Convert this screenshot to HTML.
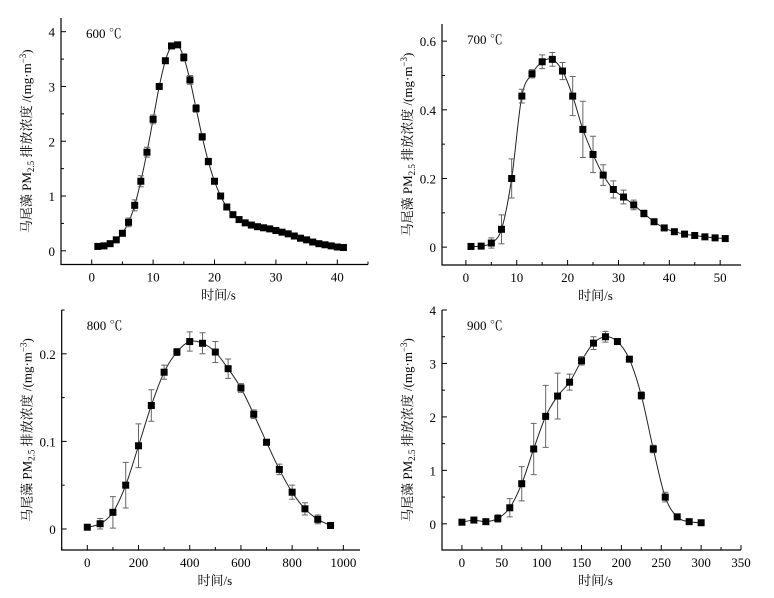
<!DOCTYPE html>
<html><head><meta charset="utf-8"><style>
body{margin:0;background:#fff}
svg{display:block;font-family:"Liberation Serif","Noto Serif CJK SC",serif}
</style></head><body>
<svg id="chart" width="774" height="598" viewBox="0 0 774 598" xmlns="http://www.w3.org/2000/svg"></svg>
<script>
// Panel 1: 600 ℃
const x600 = [1,2,3,4,5,6,7,8,9,10,11,12,13,14,15,16,17,18,19,20,21,22,23,24,25,26,27,28,29,30,31,32,33,34,35,36,37,38,39,40,41];
const y600 = [0.08,0.09,0.13,0.2,0.32,0.52,0.83,1.27,1.8,2.4,3.0,3.47,3.74,3.76,3.53,3.12,2.6,2.08,1.63,1.27,1.0,0.8,0.66,0.57,0.51,0.47,0.44,0.42,0.4,0.37,0.34,0.31,0.27,0.23,0.2,0.16,0.13,0.11,0.09,0.07,0.06];
const e600 = [0.02,0.02,0.02,0.03,0.05,0.08,0.1,0.1,0.09,0.08,0.05,0.04,0.03,0.04,0.07,0.08,0.07,0.06,0.06,0.04,0.03,0.02,0.02,0.02,0.02,0.02,0.02,0.02,0.02,0.02,0.02,0.02,0.02,0.02,0.02,0.02,0.02,0.02,0.02,0.02,0.02];
const xt600 = [0,10,20,30,40];
const yt600 = [0,1,2,3,4];
// Panel 2: 700 ℃
const x700 = [1,3,5,7,9,11,13,15,17,19,21,23,25,27,29,31,33,35,37,39,41,43,45,47,49,51];
const y700 = [0.002,0.003,0.012,0.052,0.2,0.44,0.505,0.54,0.547,0.513,0.44,0.343,0.27,0.21,0.168,0.146,0.123,0.098,0.074,0.056,0.045,0.038,0.034,0.03,0.027,0.025];
const e700 = [0.003,0.003,0.015,0.042,0.057,0.02,0.012,0.02,0.02,0.025,0.057,0.082,0.053,0.03,0.025,0.02,0.014,0.01,0.008,0.005,0.004,0.004,0.004,0.003,0.003,0.003];
const xt700 = [0,10,20,30,40,50];
const yt700 = [0,0.2,0.4,0.6];
// Panel 3: 800 ℃
const x800 = [0,50,100,150,200,250,300,350,400,450,500,550,600,650,700,750,800,850,900,950];
const y800 = [0.002,0.006,0.019,0.05,0.095,0.141,0.179,0.202,0.214,0.212,0.202,0.183,0.161,0.131,0.099,0.068,0.042,0.023,0.011,0.004];
const e800 = [0.002,0.006,0.018,0.026,0.025,0.018,0.008,0.004,0.011,0.012,0.012,0.011,0.005,0.005,0.002,0.006,0.008,0.007,0.005,0.002];
const xt800 = [0,200,400,600,800,1000];
const yt800 = [0,0.1,0.2];
// Panel 4: 900 ℃
const x900 = [0,15,30,45,60,75,90,105,120,135,150,165,180,195,210,225,240,255,270,285,300];
const y900 = [0.03,0.07,0.04,0.1,0.3,0.75,1.4,2.01,2.39,2.65,3.05,3.38,3.5,3.41,3.08,2.4,1.4,0.5,0.13,0.04,0.02];
const e900 = [0.02,0.05,0.03,0.07,0.17,0.32,0.48,0.58,0.43,0.15,0.08,0.12,0.1,0.03,0.03,0.07,0.07,0.09,0.03,0.02,0.02];
const xt900 = [0,50,100,150,200,250,300,350];
const yt900 = [0,1,2,3,4];

const NS = "http://www.w3.org/2000/svg";
const svg = document.getElementById('chart');
function mk(tag, attrs, parent){const e=document.createElementNS(NS,tag);for(const k in attrs)e.setAttribute(k,attrs[k]);(parent||svg).appendChild(e);return e;}

function panel(o){
  const g = mk('g',{});
  
  
  const sx = v => o.L + (v-o.xmin)/(o.xmax-o.xmin)*(o.R-o.L);
  const sy = v => o.B - (v-o.ymin)/(o.ymax-o.ymin)*(o.B-o.T);
  const ax = mk('path',{d:`M${o.L},${o.T}V${o.B}H${o.R}`,fill:'none',stroke:'#000','stroke-width':1.2},g);
  
  
  // x ticks
  const xstep = o.xt[1]-o.xt[0];
  for(let v=o.xt[0]-xstep/2; v<=o.xmax+1e-9; v+=xstep/2){
    if(v<o.xmin) continue;
    const major = Math.abs(((v-o.xt[0])/xstep)-Math.round((v-o.xt[0])/xstep))<1e-6;
    mk('line',{x1:sx(v),x2:sx(v),y1:o.B,y2:o.B-(major?5:3),stroke:'#000','stroke-width':1},g);
  }
  o.xt.forEach(v=>{
    const t = mk('text',{x:sx(v),y:o.B+17,'text-anchor':'middle','font-size':13},g);
    t.textContent = v;
    
    
  });
  const ystep = o.yt[1]-o.yt[0];
  for(let v=o.yt[0]-ystep/2; v<=o.ymax+1e-9; v+=ystep/2){
    if(v<o.ymin) continue;
    const major = Math.abs(((v-o.yt[0])/ystep)-Math.round((v-o.yt[0])/ystep))<1e-6;
    mk('line',{x1:o.L,x2:o.L+(major?5:3),y1:sy(v),y2:sy(v),stroke:'#000','stroke-width':1},g);
  }
  o.yt.forEach(v=>{
    const t = mk('text',{x:o.L-6,y:sy(v)+5,'text-anchor':'end','font-size':13},g);
    t.textContent = v===0?'0':(Number.isInteger(v)?v:v.toFixed(1));
    
    
  });
  const xt = mk('text',{x:(o.L+o.R)/2+4,y:o.B+35,'text-anchor':'middle','font-size':13},g);
  xt.textContent='时间/s';
  
  
  const cy=(o.T+o.B)/2, cx=o.L-30;
  const yt = mk('text',{x:cx,y:cy,'text-anchor':'middle','font-size':13,transform:`rotate(-90 ${cx} ${cy})`},g);
  yt.innerHTML='马尾藻 PM<tspan font-size="9" dy="3">2.5</tspan><tspan dy="-3"> 排放浓度 /(mg·m</tspan><tspan font-size="9" dy="-5">−3</tspan><tspan dy="5">)</tspan>';
  
  
  const lab = mk('text',{x:o.L+25,y:o.T+20,'font-size':13},g);
  lab.textContent=o.label;
  
  
  // curve (Catmull-Rom)
  const P = o.x.map((v,i)=>[sx(v),sy(o.y[i])]);
  let d=`M${P[0][0]},${P[0][1]}`;
  for(let i=0;i<P.length-1;i++){
    const p0=P[Math.max(0,i-1)],p1=P[i],p2=P[i+1],p3=P[Math.min(P.length-1,i+2)];
    d+=`C${p1[0]+(p2[0]-p0[0])/6},${p1[1]+(p2[1]-p0[1])/6} ${p2[0]-(p3[0]-p1[0])/6},${p2[1]-(p3[1]-p1[1])/6} ${p2[0]},${p2[1]}`;
  }
  const c = mk('path',{d,fill:'none',stroke:'#222','stroke-width':1},g);
  
  
  o.x.forEach((v,i)=>{
    const X=sx(v),y1=sy(o.y[i]+o.e[i]),y2=sy(o.y[i]-o.e[i]);
    mk('path',{d:`M${X},${y1}V${y2}M${X-3},${y1}H${X+3}M${X-3},${y2}H${X+3}`,stroke:'#666','stroke-width':1,fill:'none'},g);
    const r = mk('rect',{x:X-3.5,y:sy(o.y[i])-3.5,width:7,height:7,fill:'#000'},g);
    
    
  });
}
panel({key:'600',label:'600 ℃',x:x600,y:y600,e:e600,xt:xt600,yt:yt600,L:61,R:368,T:18,B:264.5,xmin:-5,xmax:45,ymin:-0.25,ymax:4.25});
panel({key:'700',label:'700 ℃',x:x700,y:y700,e:e700,xt:xt700,yt:yt700,L:442,R:741,T:24,B:265,xmin:-4.7,xmax:54.1,ymin:-0.052,ymax:0.65});
panel({key:'800',label:'800 ℃',x:x800,y:y800,e:e800,xt:xt800,yt:yt800,L:61.7,R:360,T:310,B:550,xmin:-100,xmax:1065,ymin:-0.024,ymax:0.25});
panel({key:'900',label:'900 ℃',x:x900,y:y900,e:e900,xt:xt900,yt:yt900,L:442,R:741,T:310,B:550,xmin:-25,xmax:350,ymin:-0.49,ymax:4});
</script>
</body></html>
